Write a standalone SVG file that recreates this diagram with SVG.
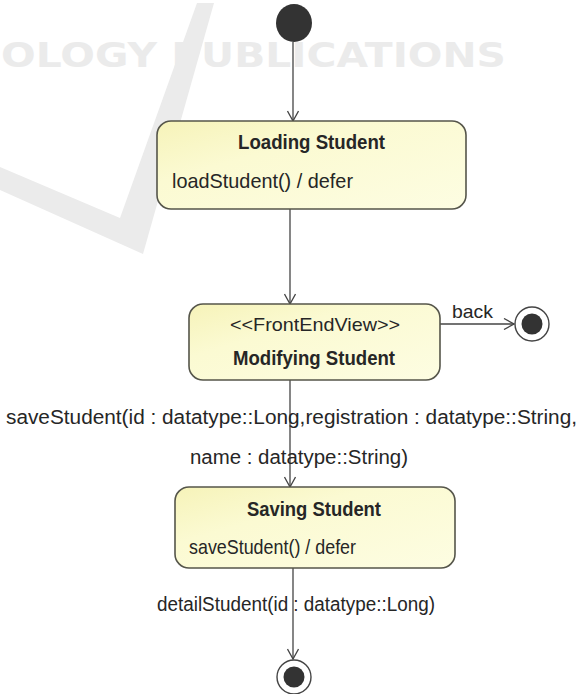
<svg xmlns="http://www.w3.org/2000/svg" width="580" height="694" viewBox="0 0 580 694">
  <defs>
    <linearGradient id="stateFill" x1="0" y1="0" x2="1" y2="1">
      <stop offset="0" stop-color="#f6f3b9"/>
      <stop offset="0.35" stop-color="#fbfad2"/>
      <stop offset="1" stop-color="#fdfde2"/>
    </linearGradient>
    <marker id="open" viewBox="0 0 12 12" refX="11" refY="6" markerWidth="12" markerHeight="12" markerUnits="userSpaceOnUse" orient="auto">
      <path d="M1,0.5 L11,6 L1,11.5" fill="none" stroke="#444" stroke-width="1.3"/>
    </marker>
  </defs>
  <style>
    .state { fill: url(#stateFill); stroke: #55554a; stroke-width: 1.6; }
    .edge { fill: none; stroke: #444; stroke-width: 1.3; marker-end: url(#open); }
    .t { font-family: "Liberation Sans", Arial, sans-serif; fill: #262626; }
    .b { font-weight: bold; }
    .wm { fill: #ebebeb; }
  </style>
  <rect width="580" height="694" fill="#ffffff"/>

  <!-- faint background watermark -->
  <g id="watermark">
    <polygon class="wm" points="0,167 120,218 197,3 214,3 143,254 0,190"/>
    <text class="wm" x="1" y="67" font-family="DejaVu Sans, sans-serif" font-weight="bold" font-size="34" textLength="505" lengthAdjust="spacingAndGlyphs">OLOGY PUBLICATIONS</text>
  </g>

  <!-- transitions -->
  <g id="connectors">
    <line class="edge" x1="293" y1="42" x2="293" y2="121"/>
    <line class="edge" x1="290" y1="209" x2="290" y2="304"/>
    <line class="edge" x1="440" y1="324" x2="514" y2="324"/>
    <line class="edge" x1="290" y1="380" x2="290" y2="487"/>
    <line class="edge" x1="293" y1="568" x2="293" y2="659"/>
    <text class="t" x="452" y="318" font-size="19" textLength="41" lengthAdjust="spacingAndGlyphs">back</text>
    <text class="t" x="6" y="424" font-size="20" textLength="571" lengthAdjust="spacingAndGlyphs">saveStudent(id : datatype::Long,registration : datatype::String,</text>
    <text class="t" x="190" y="464" font-size="20" textLength="218" lengthAdjust="spacingAndGlyphs">name : datatype::String)</text>
    <text class="t" x="157" y="611" font-size="20" textLength="278" lengthAdjust="spacingAndGlyphs">detailStudent(id : datatype::Long)</text>
  </g>

  <g id="initial">
    <ellipse cx="294" cy="23" rx="18" ry="19" fill="#333"/>
  </g>

  <g id="loadingStudent">
    <rect class="state" x="157" y="121" width="309" height="88" rx="14"/>
    <text class="t b" x="238" y="149" font-size="20" textLength="147" lengthAdjust="spacingAndGlyphs">Loading Student</text>
    <text class="t" x="172" y="188" font-size="21" textLength="181" lengthAdjust="spacingAndGlyphs">loadStudent() / defer</text>
  </g>

  <g id="modifyingStudent">
    <rect class="state" x="189" y="304" width="251" height="76" rx="14"/>
    <text class="t" x="230" y="331" font-size="19" textLength="170" lengthAdjust="spacingAndGlyphs">&lt;&lt;FrontEndView&gt;&gt;</text>
    <text class="t b" x="233" y="365" font-size="20" textLength="162" lengthAdjust="spacingAndGlyphs">Modifying Student</text>
  </g>

  <g id="backFinal">
    <circle cx="532" cy="324" r="17" fill="#fff" stroke="#444" stroke-width="1.4"/>
    <circle cx="532" cy="324" r="10.5" fill="#333"/>
  </g>

  <g id="savingStudent">
    <rect class="state" x="175" y="487" width="280" height="81" rx="14"/>
    <text class="t b" x="247" y="516" font-size="20" textLength="134" lengthAdjust="spacingAndGlyphs">Saving Student</text>
    <text class="t" x="189" y="554" font-size="21" textLength="167" lengthAdjust="spacingAndGlyphs">saveStudent() / defer</text>
  </g>

  <g id="detailFinal">
    <circle cx="294" cy="677" r="17" fill="#fff" stroke="#444" stroke-width="1.4"/>
    <circle cx="294" cy="677" r="10.5" fill="#333"/>
  </g>
</svg>
